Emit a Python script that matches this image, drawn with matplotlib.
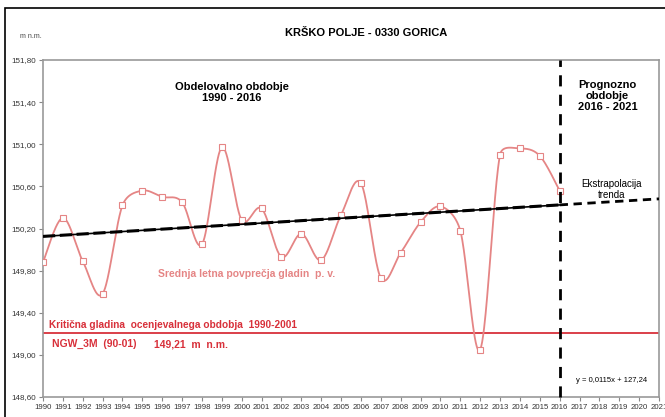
import numpy as np
import matplotlib.pyplot as plt
from matplotlib.patches import Rectangle

plt.rcParams['font.family'] = ['Liberation Sans', 'DejaVu Sans']

# Srednja letna povprecja gladin (m n.m.)
years = np.arange(1990, 2017)
levels = [149.88, 150.30, 149.89, 149.58, 150.42, 150.56, 150.50, 150.45, 150.05,
          150.97, 150.28, 150.39, 149.93, 150.15, 149.90, 150.33, 150.63, 149.73,
          149.97, 150.26, 150.41, 150.18, 149.05, 150.90, 150.96, 150.89, 150.56]

# trend y = 0,0115x + 127,24 (x = year)
trend_slope = 0.0115
trend_icept = 127.24
ngw_level = 149.21
split_year = 2016
end_year = 2021

pink = '#e58585'
red = '#d8303a'


def smooth(x, y, sx=19.87, sy=105.3, n=40):
    # Excel-like smoothed line: Bezier segments, control points limited in screen space
    P = np.column_stack([np.asarray(x, float) * sx, np.asarray(y, float) * sy])
    P = np.vstack([P[0], P, P[-1]])
    t = np.linspace(0, 1, n, endpoint=False)[:, None]
    out = []
    for i in range(1, len(P) - 2):
        p0, p1, p2, p3 = P[i - 1], P[i], P[i + 1], P[i + 2]
        d02 = np.hypot(*(p2 - p0))
        d12 = np.hypot(*(p2 - p1))
        d13 = np.hypot(*(p3 - p1))
        f1 = 1 / 6 if d02 / 6 < d12 / 2 else d12 / d02 / 2
        f2 = 1 / 6 if d13 / 6 < d12 / 2 else d12 / d13 / 2
        c1 = p1 + f1 * (p2 - p0)
        c2 = p2 - f2 * (p3 - p1)
        seg = ((1 - t) ** 3 * p1 + 3 * (1 - t) ** 2 * t * c1
               + 3 * (1 - t) * t ** 2 * c2 + t ** 3 * p2)
        out.append(seg)
    out.append(P[-2][None, :])
    out = np.vstack(out)
    return out[:, 0] / sx, out[:, 1] / sy


fig = plt.figure(figsize=(6.65, 4.17), dpi=100)
fig.patches.append(Rectangle((5 / 665, -0.1), 2, 1.1 - 8 / 417, transform=fig.transFigure,
                             fill=False, edgecolor='black', linewidth=1.2))
ax = fig.add_axes([43 / 665, 20 / 417, 616 / 665, 337 / 417])

# measured levels
cx, cy = smooth(years, levels)
ax.plot(cx, cy, color=pink, linewidth=1.3, zorder=3)
ax.plot(years, levels, linestyle='none', marker='s', markersize=4.5,
        markerfacecolor='white', markeredgecolor=pink, markeredgewidth=0.8, zorder=4)

# trend line
tx = np.array([years[0], split_year])
ax.plot(tx, trend_slope * tx + trend_icept, color='black', linewidth=1.2, zorder=5)
ax.plot(tx, trend_slope * tx + trend_icept, color='black', linewidth=2.2,
        dashes=(4, 1.5), zorder=5)
ex = np.array([split_year, end_year])
ax.plot(ex, trend_slope * ex + trend_icept, color='black', linewidth=2.0,
        dashes=(3, 2), zorder=5)

# critical level
ax.axhline(ngw_level, color=red, linewidth=1.3, zorder=2)

# split between periods
ax.plot([split_year, split_year], [148.60, 151.80], color='black', linewidth=2.0,
        dashes=(4, 3), clip_on=False, zorder=6)

ax.set_xlim(1990, end_year)
ax.set_ylim(148.60, 151.80)
ax.set_xticks(np.arange(1990, end_year + 1))
ax.set_xticklabels([str(y) for y in range(1990, end_year + 1)], fontsize=5.6, color='#333333')
yt = np.arange(148.60, 151.81, 0.40)
ax.set_yticks(yt)
ax.set_yticklabels([('%.2f' % v).replace('.', ',') for v in yt], fontsize=5.8, color='#333333')
ax.tick_params(length=3, width=0.8, color='#888888', pad=2)
for s in ax.spines.values():
    s.set_color('#999999')
    s.set_linewidth(1.2)

# texts
fig.text(366 / 665, 1 - 33 / 417, 'KRŠKO POLJE - 0330 GORICA', fontsize=8, fontweight='bold',
         ha='center', va='center')
fig.text(20 / 665, 1 - 37 / 417, 'm n.m.', fontsize=5, color='#444444', ha='left', va='center')
ax.text(1999.5, 151.49, 'Obdelovalno obdobje\n1990 - 2016', fontsize=8, fontweight='bold',
        ha='center', va='center', linespacing=1.1)
ax.text(2018.4, 151.46, 'Prognozno\nobdobje\n2016 - 2021', fontsize=8, fontweight='bold',
        ha='center', va='center', linespacing=1.1)
ax.text(2018.6, 150.57, 'Ekstrapolacija\ntrenda', fontsize=7, ha='center', va='center',
        linespacing=1.1)
ax.text(2018.6, 148.76, 'y = 0,0115x + 127,24', fontsize=5.5, ha='center', va='center')
ax.text(1995.8, 149.77, 'Srednja letna povprečja gladin  p. v.', fontsize=7.5,
        fontweight='bold', color=pink, ha='left', va='center')
ax.text(1990.3, 149.28, 'Kritična gladina  ocenjevalnega obdobja  1990-2001', fontsize=7.3,
        fontweight='bold', color=red, ha='left', va='center')
ax.text(1990.45, 149.10, 'NGW_3M  (90-01)', fontsize=7.5, fontweight='bold', color=red,
        ha='left', va='center')
ax.text(1995.6, 149.10, '149,21  m  n.m.', fontsize=7.5, fontweight='bold', color=red,
        ha='left', va='center')

fig.savefig('out.png', dpi=100)
